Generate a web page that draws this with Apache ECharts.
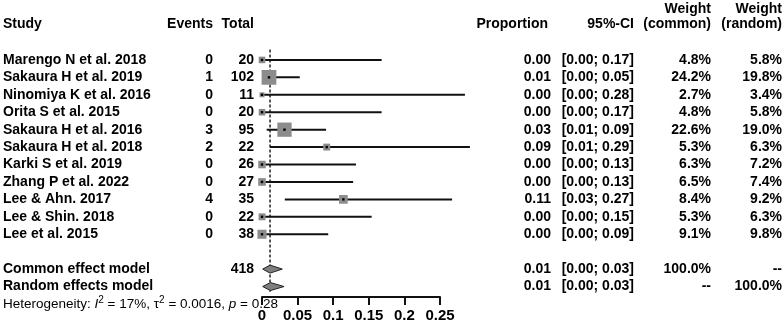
<!DOCTYPE html>
<html><head><meta charset="utf-8">
<script src="https://cdn.jsdelivr.net/npm/echarts@6/dist/echarts.min.js"></script>
<style>html,body{margin:0;padding:0;background:#fff}#c{width:784px;height:330px}</style>
</head><body><div id="c"></div>
<script>
const studies = ['Marengo N et al. 2018','Sakaura H et al. 2019','Ninomiya K et al. 2016','Orita S et al. 2015','Sakaura H et al. 2016','Sakaura H et al. 2018','Karki S et al. 2019','Zhang P et al. 2022','Lee & Ahn. 2017','Lee & Shin. 2018','Lee et al. 2015'];
const events = [0,1,0,0,3,2,0,0,4,0,0];
const totals = [20,102,11,20,95,22,26,27,35,22,38];
const proportion = [0,0.0098,0,0,0.0316,0.0909,0,0,0.1143,0,0];
const ciLower = [0,0.0002,0,0,0.0066,0.0112,0,0,0.032,0,0];
const ciUpper = [0.168,0.053,0.285,0.168,0.090,0.292,0.132,0.128,0.267,0.154,0.093];
const propText = ['0.00','0.01','0.00','0.00','0.03','0.09','0.00','0.00','0.11','0.00','0.00'];
const ciText = ['[0.00; 0.17]','[0.00; 0.05]','[0.00; 0.28]','[0.00; 0.17]','[0.01; 0.09]','[0.01; 0.29]','[0.00; 0.13]','[0.00; 0.13]','[0.03; 0.27]','[0.00; 0.15]','[0.00; 0.09]'];
const weightCommon = [4.8,24.2,2.7,4.8,22.6,5.3,6.3,6.5,8.4,5.3,9.1];
const weightRandom = [5.8,19.8,3.4,5.8,19.0,6.3,7.2,7.4,9.2,6.3,9.8];

const models = ['Common effect model','Random effects model'];
const modelRows = [12,13];
const modelTotal = ['418',''];
const modelEst = [0.0113,0.0118];
const modelLower = [0.0010,0.0010];
const modelUpper = [0.0285,0.0310];
const modelPropText = ['0.01','0.01'];
const modelCiText = ['[0.00; 0.03]','[0.00; 0.03]'];
const modelWCommon = ['100.0%','--'];
const modelWRandom = ['--','100.0%'];

const xTicks = [0,0.05,0.1,0.15,0.2,0.25];
const refLine = 0.0113;

const FONT = '"Liberation Sans", Arial, Helvetica, sans-serif';
const FS = 14;
const COL = {study:3, events:213, total:254, prop:551, ci:634, wc:711, wr:782};

const chart = echarts.init(document.getElementById('c'), null, {renderer:'canvas'});

function txt(x, y, s, align, bold){
  return {type:'text', x:x, y:y, style:{text:s, align:align, verticalAlign:'middle', font:(bold?'bold ':'')+FS+'px '+FONT, fill:'#000'}};
}

const studyData = studies.map((s,i)=>[i, proportion[i], ciLower[i], ciUpper[i], weightCommon[i]]);
const modelData = models.map((m,k)=>[modelRows[k], modelEst[k], modelLower[k], modelUpper[k]]);

chart.setOption({
  animation:false,
  backgroundColor:'#fff',
  grid:{left:262, width:178, top:42.5, height:254.5},
  xAxis:{type:'value', position:'bottom', min:xTicks[0], max:xTicks[xTicks.length-1], interval:0.05,
    axisLine:{show:true, onZero:false, lineStyle:{color:'#111', width:2}},
    axisTick:{show:true, length:8, lineStyle:{color:'#111', width:2}},
    splitLine:{show:false},
    axisLabel:{margin:11, color:'#000', fontWeight:'bold', fontSize:15, fontFamily:FONT,
      formatter:v=>String(parseFloat(v.toFixed(2)))}
  },
  yAxis:{type:'value', inverse:true, min:-1, max:13.6, show:false},
  graphic:[
    txt(COL.study, 24, 'Study', 'left', true),
    txt(COL.events, 24, 'Events', 'right', true),
    txt(COL.total, 24, 'Total', 'right', true),
    txt(548, 24, 'Proportion', 'right', true),
    txt(COL.ci, 24, '95%-CI', 'right', true),
    txt(COL.wc, 9, 'Weight', 'right', true),
    txt(COL.wc, 24, '(common)', 'right', true),
    txt(COL.wr, 9, 'Weight', 'right', true),
    txt(COL.wr, 24, '(random)', 'right', true),
    {type:'text', x:3, y:304, style:{
      text:'{a|Heterogeneity: }{i|I}{s|2}{a| = 17%, τ}{s|2}{a| = 0.0016, }{i|p}{a| = 0.28}',
      verticalAlign:'middle', align:'left',
      rich:{
        a:{fontSize:13.5, fontFamily:FONT, color:'#000'},
        i:{fontSize:13.5, fontFamily:FONT, fontStyle:'italic', color:'#000'},
        s:{fontSize:10, fontFamily:FONT, color:'#000', verticalAlign:'top', lineHeight:18}
      }
    }}
  ],
  series:[
    {type:'custom', name:'ref', silent:true, z:1,
      data:[[refLine,-0.6,13.3]],
      renderItem:(params,api)=>{
        const a = api.coord([api.value(0), api.value(1)]);
        const b = api.coord([api.value(0), api.value(2)]);
        return {type:'line', shape:{x1:a[0],y1:a[1],x2:b[0],y2:b[1]}, style:{stroke:'#222', lineWidth:1.5, lineDash:[3,2]}};
      }
    },
    {type:'custom', name:'studies', z:3,
      data:studyData,
      renderItem:(params,api)=>{
        const r = api.value(0);
        const p = api.coord([api.value(1), r]);
        const l = api.coord([api.value(2), r]);
        const h = api.coord([api.value(3), r]);
        const s = Math.sqrt(api.value(4))*3;
        return {type:'group', children:[
          {type:'line', shape:{x1:l[0],y1:l[1],x2:h[0],y2:h[1]}, style:{stroke:'#111', lineWidth:2}},
          {type:'rect', shape:{x:p[0]-s/2,y:p[1]-s/2,width:s,height:s}, style:{fill:'#8c8c8c'}},
          {type:'rect', shape:{x:p[0]-1.2,y:p[1]-1.2,width:2.4,height:2.4}, style:{fill:'#000'}}
        ]};
      }
    },
    {type:'custom', name:'models', z:3,
      data:modelData,
      renderItem:(params,api)=>{
        const r = api.value(0);
        const p = api.coord([api.value(1), r]);
        const l = api.coord([api.value(2), r]);
        const h = api.coord([api.value(3), r]);
        const d = 4;
        return {type:'polygon', shape:{points:[[l[0],l[1]],[p[0],p[1]-d],[h[0],h[1]],[p[0],p[1]+d]]},
          style:{fill:'#7f7f7f', stroke:'#222', lineWidth:1}};
      }
    },
    {type:'custom', name:'studyText', silent:true, z:4,
      data:studies.map((s,i)=>[0,i]),
      renderItem:(params,api)=>{
        const i = params.dataIndex;
        const y = api.coord([0, api.value(1)])[1];
        return {type:'group', children:[
          txt(COL.study, y, studies[i], 'left', true),
          txt(COL.events, y, String(events[i]), 'right', true),
          txt(COL.total, y, String(totals[i]), 'right', true),
          txt(COL.prop, y, propText[i], 'right', true),
          txt(COL.ci, y, ciText[i], 'right', true),
          txt(COL.wc, y, weightCommon[i].toFixed(1)+'%', 'right', true),
          txt(COL.wr, y, weightRandom[i].toFixed(1)+'%', 'right', true)
        ]};
      }
    },
    {type:'custom', name:'modelText', silent:true, z:4,
      data:models.map((m,k)=>[0,modelRows[k]]),
      renderItem:(params,api)=>{
        const k = params.dataIndex;
        const y = api.coord([0, api.value(1)])[1];
        return {type:'group', children:[
          txt(COL.study, y, models[k], 'left', true),
          txt(COL.total, y, modelTotal[k], 'right', true),
          txt(COL.prop, y, modelPropText[k], 'right', true),
          txt(COL.ci, y, modelCiText[k], 'right', true),
          txt(COL.wc, y, modelWCommon[k], 'right', true),
          txt(COL.wr, y, modelWRandom[k], 'right', true)
        ]};
      }
    }
  ]
});
</script></body></html>
